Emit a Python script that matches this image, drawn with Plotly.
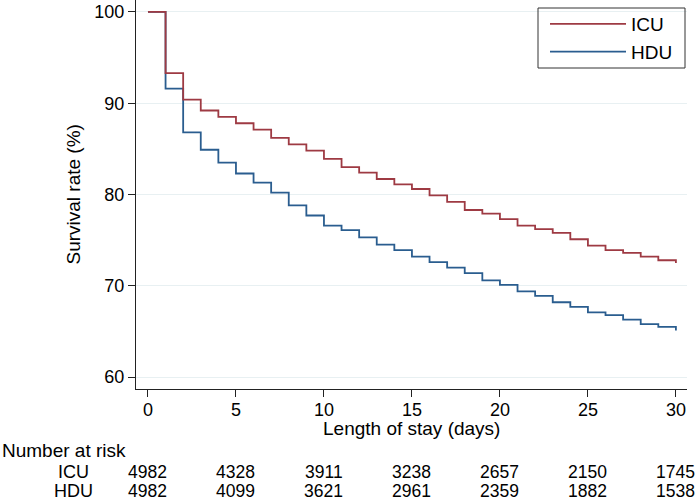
import plotly.graph_objects as go

days = list(range(0, 31))
icu_surv = [100, 93.3, 90.4, 89.2, 88.5, 87.8, 87.1, 86.2, 85.5, 84.8, 83.9,
            83.0, 82.4, 81.7, 81.1, 80.6, 79.9, 79.2, 78.3, 77.9, 77.3,
            76.6, 76.2, 75.8, 75.1, 74.4, 73.9, 73.6, 73.2, 72.8, 72.5]
hdu_surv = [100, 91.6, 86.8, 84.9, 83.5, 82.3, 81.3, 80.2, 78.8, 77.7, 76.6,
            76.1, 75.3, 74.5, 73.9, 73.2, 72.6, 72.0, 71.4, 70.6, 70.1,
            69.4, 68.9, 68.2, 67.7, 67.1, 66.8, 66.3, 65.8, 65.5, 65.1]

risk_days = [0, 5, 10, 15, 20, 25, 30]
icu_risk = [4982, 4328, 3911, 3238, 2657, 2150, 1745]
hdu_risk = [4982, 4099, 3621, 2961, 2359, 1882, 1538]

y_ticks = [60, 70, 80, 90, 100]
x_ticks = [0, 5, 10, 15, 20, 25, 30]

ICU_COLOR = "#9e3a43"
HDU_COLOR = "#2a5d8f"
FONT = "Arial, Liberation Sans, Helvetica, sans-serif"
FS_TITLE = 19
FS_TICK = 18
FS_NUM = 17.5

L, R, T, B = 136, 9, 0, 112
W, H = 696, 501
PW = W - L - R
PH = H - T - B

def px_x(p):
    return (p - L) / PW

def px_y(p):
    return 1 - (p - T) / PH

fig = go.Figure()
fig.add_trace(go.Scatter(x=days, y=hdu_surv, mode="lines", name="HDU",
                         line=dict(color=HDU_COLOR, width=1.8, shape="hv"),
                         legendrank=2))
fig.add_trace(go.Scatter(x=days, y=icu_surv, mode="lines", name="ICU",
                         line=dict(color=ICU_COLOR, width=1.8, shape="hv"),
                         legendrank=1))

def txt(text, x, y, xref="paper", xanchor="center", size=FS_TITLE, angle=0):
    return dict(text=text, x=x, y=y, xref=xref, yref="paper", xanchor=xanchor,
                yanchor="middle", showarrow=False, textangle=angle,
                font=dict(size=size, color="black", family=FONT))

annotations = [
    txt("Length of stay (days)", px_x(411.5), px_y(429)),
    txt("Survival rate (%)", px_x(73), 0.5, angle=-90),
    txt("Number at risk", px_x(0), px_y(450), xanchor="left"),
]
for label, vals, ypx in [("ICU", icu_risk, 472), ("HDU", hdu_risk, 490.5)]:
    annotations.append(txt(label, px_x(73), px_y(ypx), size=FS_TICK))
    for d, v in zip(risk_days, vals):
        annotations.append(txt(str(v), d, px_y(ypx), xref="x", size=FS_NUM))

shapes = [dict(type="rect", xref="paper", yref="paper",
               x0=px_x(538), x1=px_x(685), y0=px_y(68), y1=px_y(8),
               line=dict(color="#333333", width=1), fillcolor="rgba(0,0,0,0)")]

fig.update_layout(
    width=W, height=H,
    margin=dict(l=L, r=R, t=T, b=B),
    paper_bgcolor="white", plot_bgcolor="white",
    font=dict(family=FONT, size=FS_TICK, color="black"),
    showlegend=True,
    legend=dict(x=px_x(545), y=px_y(5), xanchor="left", yanchor="top",
                borderwidth=0, bgcolor="rgba(0,0,0,0)",
                itemwidth=76, font=dict(size=FS_TITLE, family=FONT)),
    annotations=annotations,
    shapes=shapes,
    xaxis=dict(range=[-0.68, 30.63], tickvals=x_ticks,
               showgrid=False, zeroline=False, showline=True, linecolor="#222222",
               linewidth=1, ticks="outside", ticklen=7, tickcolor="#222222",
               ticklabelstandoff=-3, tickfont=dict(size=FS_TICK, family=FONT)),
    yaxis=dict(range=[58.7, 101.3], tickvals=y_ticks,
               showgrid=True, gridcolor="#e8f0f2", gridwidth=1, zeroline=False,
               showline=True, linecolor="#222222", linewidth=1,
               ticks="outside", ticklen=7, tickcolor="#222222",
               tickfont=dict(size=FS_TICK, family=FONT)),
)

fig.write_html("out.html", config={"displayModeBar": False},
               post_script="document.body.style.margin='0';document.body.style.overflow='hidden';")
